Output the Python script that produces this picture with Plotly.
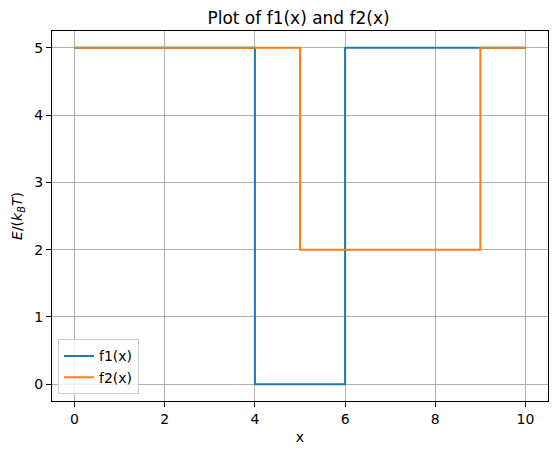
import plotly.graph_objects as go

# f1(x): step function
f1_x = [0, 4, 4, 6, 6, 10]
f1_y = [5, 5, 0, 0, 5, 5]
# f2(x): step function
f2_x = [0, 5, 5, 9, 9, 10]
f2_y = [5, 5, 2, 2, 5, 5]

x_ticks = [0, 2, 4, 6, 8, 10]
y_ticks = [0, 1, 2, 3, 4, 5]

font = "DejaVu Sans"

fig = go.Figure()
fig.add_trace(go.Scatter(x=f1_x, y=f1_y, mode="lines", name="f1(x)",
                         line=dict(color="#1f77b4", width=2)))
fig.add_trace(go.Scatter(x=f2_x, y=f2_y, mode="lines", name="f2(x)",
                         line=dict(color="#ff7f0e", width=2)))

axis_common = dict(
    showline=True, linecolor="black", linewidth=1, mirror=True,
    showgrid=True, gridcolor="#b0b0b0", gridwidth=1,
    ticks="outside", ticklen=5, tickcolor="black", tickwidth=1,
    zeroline=False, tickfont=dict(family=font, size=14, color="black"),
)

fig.update_layout(
    width=557, height=455,
    margin=dict(l=52, r=9, t=31, b=54),
    paper_bgcolor="white", plot_bgcolor="white",
    title=dict(text="Plot of f1(x) and f2(x)", x=0.536, xanchor="center",
               y=1 - 18 / 455, yanchor="middle",
               font=dict(family=font, size=17, color="black")),
    xaxis=dict(range=[-0.5, 10.5], tickvals=x_ticks,
               title=dict(text="x", font=dict(family=font, size=14, color="black"),
                          standoff=6),
               **axis_common),
    yaxis=dict(range=[-0.25, 5.25], tickvals=y_ticks,
               title=dict(text="<i>E</i>/(<i>k</i><sub><i>B</i></sub><i>T</i>)",
                          font=dict(family=font, size=14, color="black"),
                          standoff=8),
               **axis_common),
    legend=dict(x=0.012, y=0.018, xanchor="left", yanchor="bottom",
                bgcolor="rgba(255,255,255,0.8)", bordercolor="#cccccc", borderwidth=1,
                font=dict(family=font, size=14, color="black")),
    showlegend=True,
)

fig.write_html("out.html")
